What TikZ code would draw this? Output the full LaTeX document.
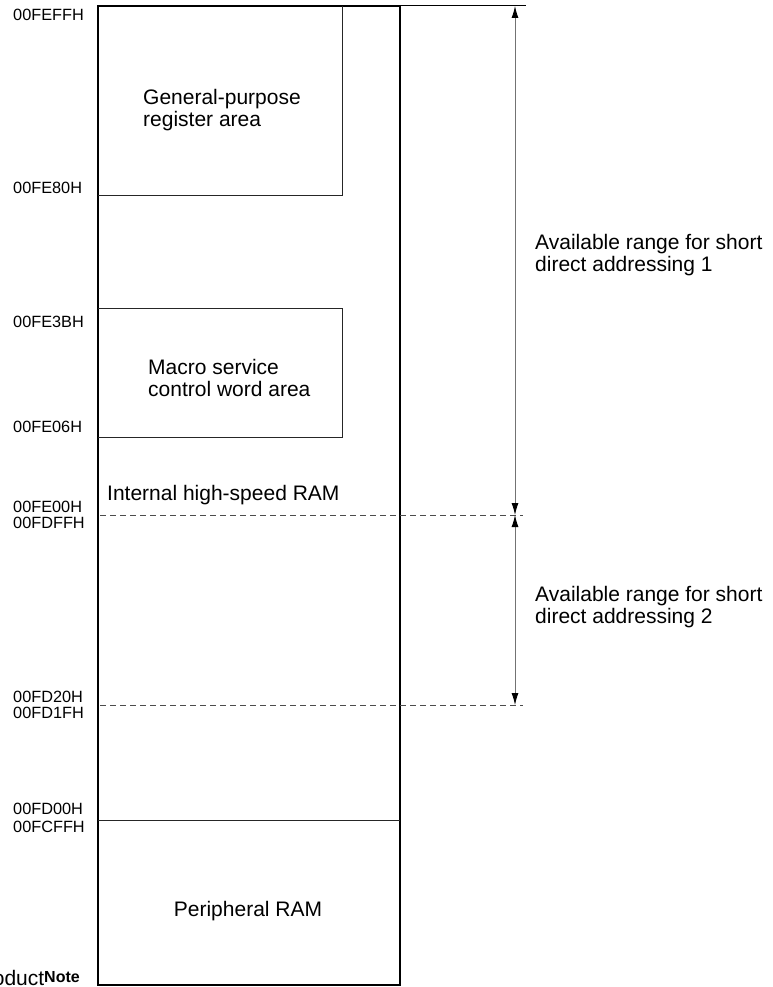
\documentclass[tikz,border=0pt]{standalone}
\usepackage{fontspec}
\setmainfont{Liberation Sans}
\usetikzlibrary{arrows.meta}
\usetikzlibrary{positioning}
\tikzset{>={Latex[length=12pt,width=7pt,black]}}
\tikzset{
  addr/.style={anchor=west, inner sep=0pt, font=\fontsize{16.3}{18}\selectfont},
  areatext/.style={anchor=west, inner sep=0pt, align=left, font=\fontsize{21}{22}\selectfont},
  areabox/.style={draw=black!85, line width=1pt},
  rangearrow/.style={<->, draw=black!55, line width=0.9pt},
  boundary/.style={draw=black!70, line width=0.9pt, dash pattern=on 6pt off 4pt},
}

\begin{document}
\begin{tikzpicture}[x=1pt, y=-1pt]
    \useasboundingbox (0,0) rectangle (772,987);

    % Draw the RAM block and its sub-areas.
    \draw[line width=2.8pt] (98,6) rectangle (400,985);
    \draw[areabox] (98,195) -| (342,6);
    \draw[areabox] (98,308) -| (342,437) -- (98,437);
    \draw[areabox] (98,820) -- (400,820);
    \node[areatext] (gpreg) at (143,110) {General-purpose\\register area};
    \node[areatext] (macro) at (148,378) {Macro service\\control word area};
    \node[areatext] (hsram) at (107,495) {Internal high-speed RAM};
    \node[areatext, anchor=center] (pram) at (248,911) {Peripheral RAM};
    \node[areatext, anchor=base east] (product) at (80,985)
      {Product\raisebox{3pt}{\fontsize{16}{16}\selectfont\bfseries Note}};

    % Write the addresses.
    \node[addr] (a-feff) at (13,15) {00FEFFH};
    \node[addr] (a-fe80) at (13,188) {00FE80H};
    \node[addr] (a-fe3b) at (13,322) {00FE3BH};
    \node[addr] (a-fe06) at (13,427) {00FE06H};
    \node[addr] (a-fe00) at (13,507) {00FE00H};
    \node[addr] (a-fdff) at (13,523) {00FDFFH};
    \node[addr] (a-fd20) at (13,697) {00FD20H};
    \node[addr] (a-fd1f) at (13,713) {00FD1FH};
    \node[addr] (a-fd00) at (13,809) {00FD00H};
    \node[addr] (a-fcff) at (13,827) {00FCFFH};

    % Draw the short direct addressing ranges.
    \coordinate (r-top) at (515,6);
    \coordinate (r-mid) at (515,515);
    \coordinate (r-bot) at (515,705);
    \draw[line width=1pt] (400,6) -- (526,6);
    \draw[boundary] (100,515) -- (523,515);
    \draw[boundary] (100,705) -- (523,705);
    \draw[rangearrow] (r-top) -- (r-mid);
    \draw[rangearrow] (r-mid) -- (r-bot);
    \node[areatext] (range1) at (535,255) {Available range for short\\direct addressing 1};
    \node[areatext] (range2) at (535,607) {Available range for short\\direct addressing 2};
\end{tikzpicture}
\end{document}
